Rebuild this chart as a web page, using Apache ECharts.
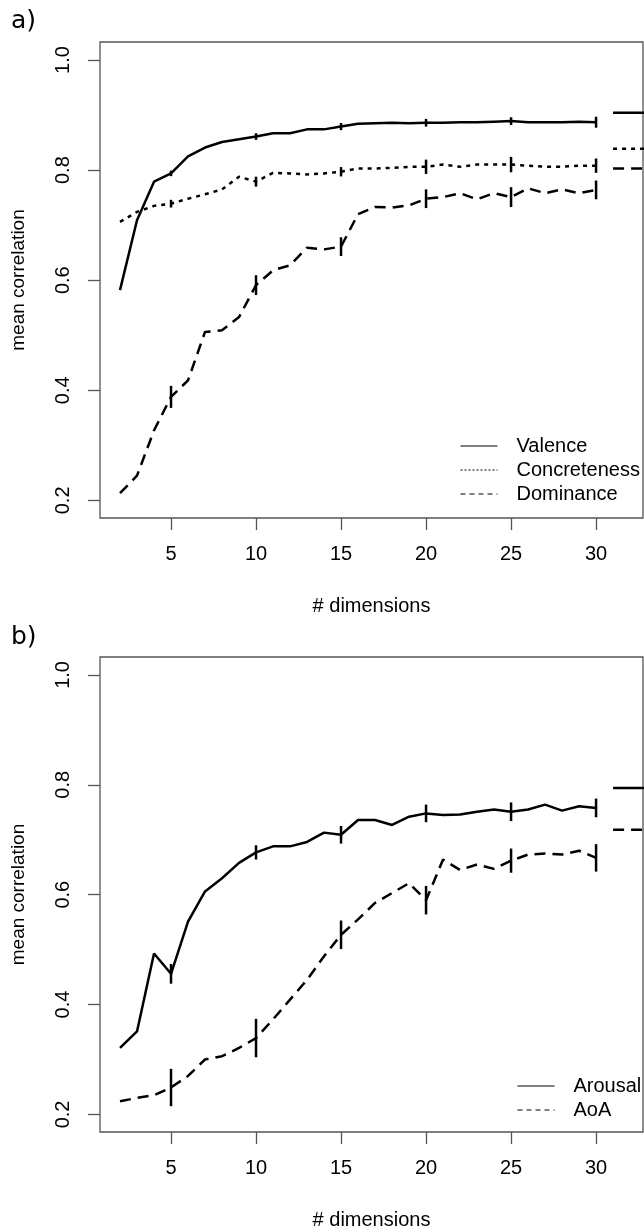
<!DOCTYPE html>
<html>
<head>
<meta charset="utf-8">
<script src="https://cdn.jsdelivr.net/npm/echarts@6/dist/echarts.min.js"></script>
<style>html,body{margin:0;padding:0;background:#fff}#c{width:644px;height:1231px}</style>
</head>
<body>
<div id="c"></div>
<script>
const dims = [2,3,4,5,6,7,8,9,10,11,12,13,14,15,16,17,18,19,20,21,22,23,24,25,26,27,28,29,30];
const valence = [0.582,0.709,0.779,0.794,0.825,0.841,0.851,0.856,0.861,0.867,0.867,0.874,0.874,0.879,0.884,0.885,0.886,0.885,0.886,0.886,0.887,0.887,0.888,0.889,0.887,0.887,0.887,0.888,0.887];
const concreteness = [0.706,0.724,0.735,0.739,0.748,0.756,0.765,0.788,0.779,0.795,0.794,0.792,0.794,0.797,0.803,0.803,0.804,0.806,0.806,0.810,0.806,0.810,0.810,0.810,0.808,0.806,0.806,0.808,0.808];
const dominance = [0.213,0.245,0.327,0.388,0.418,0.506,0.509,0.533,0.591,0.618,0.627,0.659,0.656,0.661,0.720,0.733,0.732,0.736,0.748,0.751,0.758,0.747,0.758,0.751,0.767,0.758,0.765,0.758,0.764];
const arousal = [0.321,0.351,0.493,0.456,0.551,0.606,0.630,0.658,0.677,0.688,0.688,0.696,0.713,0.709,0.736,0.736,0.727,0.742,0.748,0.745,0.746,0.751,0.755,0.751,0.755,0.764,0.753,0.761,0.758];
const aoa = [0.224,0.230,0.235,0.249,0.270,0.300,0.306,0.321,0.339,0.373,0.409,0.445,0.488,0.527,0.555,0.585,0.603,0.621,0.590,0.664,0.645,0.655,0.647,0.662,0.673,0.675,0.673,0.680,0.667];

const errDims = [5,10,15,20,25,30];
const valenceErr = [0.005,0.006,0.0065,0.007,0.007,0.010];
const concretenessErr = [0.007,0.009,0.0085,0.013,0.014,0.013];
const dominanceErr = [0.020,0.018,0.017,0.017,0.018,0.017];
const arousalErr = [0.018,0.013,0.016,0.016,0.017,0.017];
const aoaErr = [0.034,0.035,0.026,0.026,0.022,0.025];

// reference levels shown at right edge of each panel
const refX = [31, 34];
const refA = {Valence: 0.904, Concreteness: 0.839, Dominance: 0.803};
const refB = {Arousal: 0.794, AoA: 0.718};

const xTicks = [5,10,15,20,25,30];
const yTicks = [0.2,0.4,0.6,0.8,1.0];

const FONT = '"Liberation Sans", Arial, sans-serif';
const styles = {
  solid: {type: 'solid'},
  dotted: {type: [4,5]},
  dashed: {type: [11,7]}
};
const legendStyles = {
  solid: 'solid', dotted: [2,2], dashed: [5,4]
};

function pairs(vals){ return dims.map((d,i)=>[d, vals[i]]); }
function errData(vals, errs){
  return errDims.map((d,i)=>{ const v = vals[dims.indexOf(d)]; return [d, v-errs[i], v+errs[i]]; });
}
function lineSeries(name, vals, st, idx){
  return {name, type:'line', xAxisIndex: idx, yAxisIndex: idx, data: pairs(vals), symbol:'none',
    lineStyle:{color:'#000', width:2.5, type: styles[st].type}, itemStyle:{color:'#000'}, silent:true, z:3};
}
function refSeries(v, st, idx){
  return {type:'line', xAxisIndex: idx, yAxisIndex: idx, data: refX.map(x=>[x, v]), symbol:'none',
    lineStyle:{color:'#000', width:2.5, type: styles[st].type}, silent:true, clip:true};
}
function errSeries(vals, errs, idx){
  return {type:'custom', xAxisIndex: idx, yAxisIndex: idx, data: errData(vals, errs), silent:true, z:4,
    renderItem: (params, api)=>{
      const p1 = api.coord([api.value(0), api.value(1)]);
      const p2 = api.coord([api.value(0), api.value(2)]);
      return {type:'line', shape:{x1:p1[0], y1:p1[1], x2:p2[0], y2:p2[1]}, style:{stroke:'#000', lineWidth:2.5}};
    }};
}

function xAxis(idx){
  return {type:'value', gridIndex: idx, min: 0.8235, max: 32.76,
    name:'# dimensions', nameLocation:'middle', nameGap: 78,
    nameTextStyle:{fontFamily: FONT, fontSize: 20, color:'#000'},
    axisLine:{show:false}, splitLine:{show:false},
    axisTick:{show:true, length:12, inside:false, customValues: xTicks, lineStyle:{color:'#555', width:1.3}},
    axisLabel:{show:true, customValues: xTicks, margin: 26, fontFamily: FONT, fontSize: 20, color:'#000'}};
}
function yAxis(idx){
  return {type:'value', gridIndex: idx, min: 0.168, max: 1.0327,
    name:'mean correlation', nameLocation:'middle', nameGap: 72,
    nameTextStyle:{fontFamily: FONT, fontSize: 19, color:'#000'},
    axisLine:{show:false}, splitLine:{show:false},
    axisTick:{show:true, length:12, inside:false, customValues: yTicks, lineStyle:{color:'#555', width:1.3}},
    axisLabel:{show:true, customValues: yTicks, rotate: 90, margin: 27, fontFamily: FONT, fontSize: 20, color:'#000',
      formatter: v => v.toFixed(1)}};
}

function legend(names, st, left, top){
  return {orient:'vertical', left, top, itemWidth: 37, itemHeight: 14, itemGap: 4,
    padding: 0, selectedMode:false, inactiveColor:'#000',
    itemStyle:{color:'rgba(0,0,0,0)', borderWidth:0, opacity:0},
    textStyle:{fontFamily: FONT, fontSize: 20, lineHeight: 20, color:'#000', padding:[0,0,0,14]},
    data: names.map((n,i)=>({name:n,
      itemStyle:{color:'rgba(0,0,0,0)', borderWidth:0, opacity:0},
      lineStyle:{width:1, type:legendStyles[st[i]], color:'#000', opacity:1}}))};
}

const chart = echarts.init(document.getElementById('c'), null, {renderer:'canvas'});
chart.setOption({
  animation:false,
  backgroundColor:'#fff',
  title:[
    {text:'a)', left: 6, top: 4, textStyle:{fontFamily:'"DejaVu Sans", sans-serif', fontSize: 25, fontWeight:'normal', color:'#000'}},
    {text:'b)', left: 6, top: 620, textStyle:{fontFamily:'"DejaVu Sans", sans-serif', fontSize: 25, fontWeight:'normal', color:'#000'}}
  ],
  grid:[
    {left:100, top:42, width:543, height:476, show:true, borderColor:'#555', borderWidth:1.3, backgroundColor:'transparent'},
    {left:100, top:657, width:543, height:477, show:true, borderColor:'#555', borderWidth:1.3, backgroundColor:'transparent'}
  ],
  xAxis:[xAxis(0), xAxis(1)],
  yAxis:[yAxis(0), yAxis(1)],
  legend:[
    legend(['Valence','Concreteness','Dominance'], ['solid','dotted','dashed'], 460, 436),
    legend(['Arousal','AoA'], ['solid','dashed'], 517, 1076)
  ],
  series:[
    lineSeries('Valence', valence, 'solid', 0),
    lineSeries('Concreteness', concreteness, 'dotted', 0),
    lineSeries('Dominance', dominance, 'dashed', 0),
    errSeries(valence, valenceErr, 0),
    errSeries(concreteness, concretenessErr, 0),
    errSeries(dominance, dominanceErr, 0),
    refSeries(refA.Valence, 'solid', 0),
    refSeries(refA.Concreteness, 'dotted', 0),
    refSeries(refA.Dominance, 'dashed', 0),
    lineSeries('Arousal', arousal, 'solid', 1),
    lineSeries('AoA', aoa, 'dashed', 1),
    errSeries(arousal, arousalErr, 1),
    errSeries(aoa, aoaErr, 1),
    refSeries(refB.Arousal, 'solid', 1),
    refSeries(refB.AoA, 'dashed', 1)
  ]
});
</script>
</body>
</html>
